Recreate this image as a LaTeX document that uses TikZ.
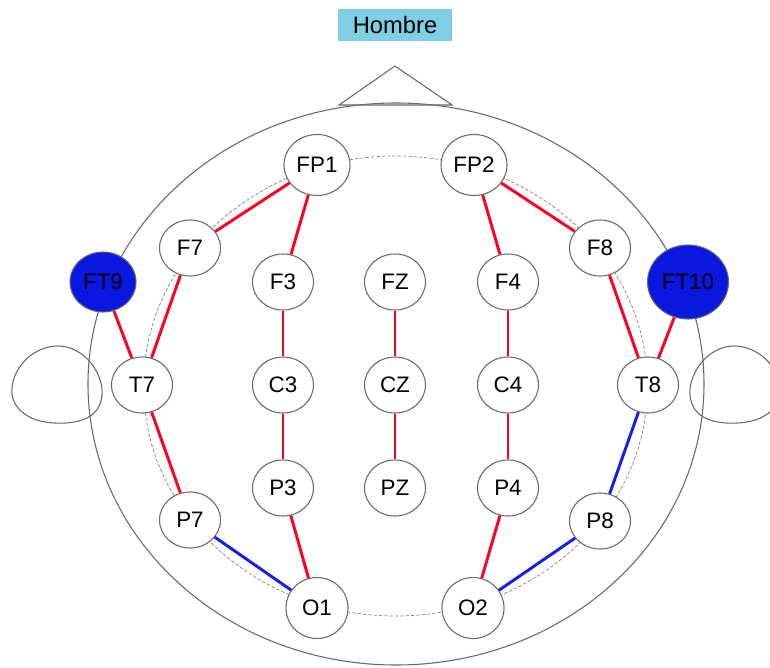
\documentclass[tikz,border=0pt]{standalone}
\usepackage{fontspec}
\setmainfont{Liberation Sans}
\usetikzlibrary{shapes.geometric}
\newcommand\pxu{0.75pt}
\definecolor{hombrebg}{RGB}{128,206,230}
\definecolor{linered}{RGB}{255,0,35}
\definecolor{lineblue}{RGB}{20,30,230}
\definecolor{ftblue}{RGB}{8,24,225}
\definecolor{rimgray}{RGB}{105,105,105}
\tikzset{
  electrode/.style={ellipse, draw=rimgray, line width=0.8pt, fill=white, inner sep=0pt,
    minimum width=61*\pxu, minimum height=56*\pxu,
    font=\fontsize{16.8}{18}\selectfont},
  front/.style={electrode, minimum width=66*\pxu, minimum height=61*\pxu},
  hot/.style={electrode, fill=ftblue, draw=rimgray},
  redlink/.style={draw=linered, line width=2.2pt},
  bluelink/.style={draw=lineblue, line width=2.2pt},
  outline/.style={draw=rimgray, line width=0.8pt},
  guide/.style={draw=gray, line width=0.5pt, dash pattern=on 2.5pt off 1.5pt}
}
\begin{document}
\begin{tikzpicture}[x=0.75pt, y=-0.75pt]
\clip (0,0) rectangle (770,667);
\fill[white] (0,0) rectangle (770,667);

% head, nose and ears
\draw[outline] (396,384) ellipse [x radius=308*\pxu, y radius=281*\pxu];
\draw[outline] (339,105) -- (395,66) -- (452,105) -- cycle;
\draw[outline] (58,346) .. controls (85,346) and (104,375) .. (102,395)
  .. controls (100,420) and (75,424) .. (55,423)
  .. controls (25,422) and (10,405) .. (12,388)
  .. controls (14,365) and (35,346) .. (58,346) -- cycle;
\draw[outline] (734,346) .. controls (707,346) and (688,375) .. (690,395)
  .. controls (692,420) and (717,424) .. (737,423)
  .. controls (767,422) and (782,405) .. (780,388)
  .. controls (778,365) and (757,346) .. (734,346) -- cycle;

% 10-20 guide ring
\draw[guide] (395.5,386) ellipse [x radius=252*\pxu, y radius=230*\pxu];

% title
\node[fill=hombrebg, minimum width=114*\pxu, minimum height=32*\pxu, inner sep=0pt,
  font=\fontsize{17.8}{19}\selectfont] (title) at (395,25) {Hombre};

% electrodes
\node[front] (FP1) at (317,165) {FP1};
\node[front] (FP2) at (474,165) {FP2};
\node[electrode] (F7) at (190,248) {F7};
\node[electrode] (F8) at (600,248) {F8};
\node[hot, minimum width=66*\pxu, minimum height=60*\pxu] (FT9) at (103,282) {FT9};
\node[hot, minimum width=81*\pxu, minimum height=74*\pxu] (FT10) at (688,282) {FT10};
\node[electrode] (F3) at (283,282) {F3};
\node[electrode] (FZ) at (395,282) {FZ};
\node[electrode] (F4) at (508,282) {F4};
\node[electrode] (T7) at (142,385) {T7};
\node[electrode] (C3) at (283,385) {C3};
\node[electrode] (CZ) at (395,385) {CZ};
\node[electrode] (C4) at (508,385) {C4};
\node[electrode] (T8) at (648,385) {T8};
\node[electrode] (P3) at (283,488) {P3};
\node[electrode] (PZ) at (395,488) {PZ};
\node[electrode] (P4) at (508,488) {P4};
\node[electrode] (P7) at (190,520) {P7};
\node[electrode] (P8) at (600,521) {P8};
\node[electrode, minimum width=62*\pxu, minimum height=61*\pxu] (O1) at (317,608) {O1};
\node[electrode, minimum width=62*\pxu, minimum height=61*\pxu] (O2) at (473,608) {O2};

% red montage links
\draw[redlink] (FP1) -- (F7);
\draw[redlink] (FP1) -- (F3);
\draw[redlink] (F3) -- (C3);
\draw[redlink] (C3) -- (P3);
\draw[redlink] (P3) -- (O1);
\draw[redlink] (F7) -- (T7);
\draw[redlink] (T7) -- (P7);
\draw[redlink] (FT9) -- (T7);
\draw[redlink] (FZ) -- (CZ);
\draw[redlink] (CZ) -- (PZ);
\draw[redlink] (FP2) -- (F4);
\draw[redlink] (F4) -- (C4);
\draw[redlink] (C4) -- (P4);
\draw[redlink] (P4) -- (O2);
\draw[redlink] (FP2) -- (F8);
\draw[redlink] (F8) -- (T8);
\draw[redlink] (FT10) -- (T8);

% blue montage links
\draw[bluelink] (P7) -- (O1);
\draw[bluelink] (T8) -- (P8);
\draw[bluelink] (P8) -- (O2);
\end{tikzpicture}
\end{document}
